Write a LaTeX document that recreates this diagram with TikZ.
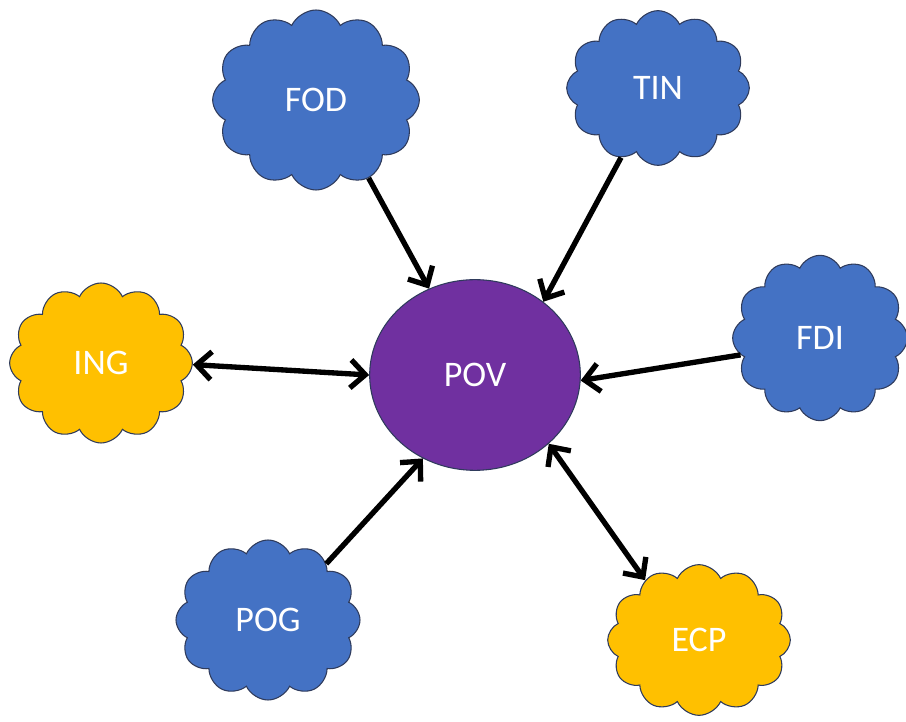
\documentclass[tikz,border=0pt]{standalone}
\usepackage{fontspec}
\setmainfont{Carlito}
\usetikzlibrary{shapes.symbols,shapes.geometric,arrows.meta}

\definecolor{norAlbastru}{HTML}{4472C4}
\definecolor{norGalben}{HTML}{FFC000}
\definecolor{centruMov}{HTML}{7030A0}
\definecolor{contur}{HTML}{2F3B5C}

\tikzset{
  nor/.style={cloud, cloud puffs=12, cloud puff arc=130, draw=contur, line width=0.8pt,
    text=white, font=\fontsize{27}{30}\selectfont, inner sep=0pt},
  albastru/.style={nor, fill=norAlbastru},
  galben/.style={nor, fill=norGalben},
  varf/.tip={Straight Barb[length=11pt,width=21pt]},
  sageata/.style={line width=4pt, -varf},
  dubla/.style={line width=4pt, varf-varf}
}

\begin{document}
\begin{tikzpicture}[x=0.75pt,y=0.75pt]
  \useasboundingbox (0,0) rectangle (906,721);

  % nodul central
  \node[ellipse, draw=contur, line width=0.8pt, fill=centruMov, text=white,
    font=\fontsize{27}{30}\selectfont,
    minimum width=158pt, minimum height=143pt] (pov) at (475,346) {POV};

  % norii
  \node[albastru, minimum width=155pt, minimum height=135pt] (fod) at (316,621) {FOD};
  \node[albastru, minimum width=137pt, minimum height=116pt] (tin) at (658,633) {TIN};
  \node[albastru, minimum width=131pt, minimum height=124pt] (fdi) at (820,383) {FDI};
  \node[galben,   minimum width=137pt, minimum height=120pt] (ing) at (101,358) {ING};
  \node[albastru, minimum width=138pt, minimum height=120pt] (pog) at (268,101) {POG};
  \node[galben,   minimum width=137pt, minimum height=113pt] (ecp) at (699,81)  {ECP};

  % săgețile
  \draw[sageata] (fod.-56)  -- (pov.118);
  \draw[sageata] (tin.-118) -- (pov.47);
  \draw[sageata] (fdi.192)  -- (pov.-3);
  \draw[sageata] (pog.44)   -- (pov.238);
  \draw[dubla]   (ing.-1)   -- (pov.180);
  \draw[dubla]   (ecp.132)  -- (pov.-43);
\end{tikzpicture}
\end{document}
